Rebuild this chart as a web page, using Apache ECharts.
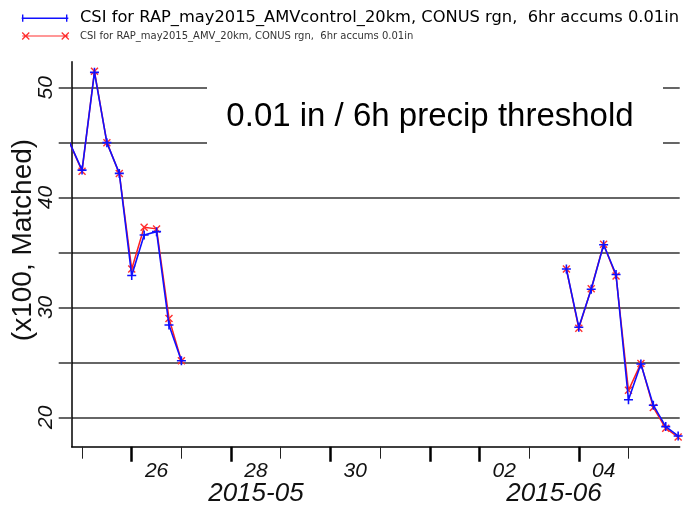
<!DOCTYPE html>
<html>
<head>
<meta charset="utf-8">
<script src="https://cdn.jsdelivr.net/npm/echarts@6/dist/echarts.min.js"></script>
<style>
html,body{margin:0;padding:0;background:#fff;}
#chart{width:683px;height:509px;}
</style>
</head>
<body>
<div id="chart"></div>
<script>
// ---- data ----
const seriesNames = [
  'CSI for RAP_may2015_AMVcontrol_20km, CONUS rgn,  6hr accums 0.01in',
  'CSI for RAP_may2015_AMV_20km, CONUS rgn,  6hr accums 0.01in'
];
const times1 = ['2015-05-24 18:00','2015-05-25 00:00','2015-05-25 06:00','2015-05-25 12:00','2015-05-25 18:00',
                '2015-05-26 00:00','2015-05-26 06:00','2015-05-26 12:00','2015-05-26 18:00','2015-05-27 00:00'];
const control1 = [45.0, 42.5, 51.4, 45.0, 42.2, 32.9, 36.6, 36.9, 28.4, 25.15];
const amv1     = [45.0, 42.4, 51.5, 45.0, 42.2, 33.5, 37.3, 37.15, 29.0, 25.15];
const times2 = ['2015-06-03 18:00','2015-06-04 00:00','2015-06-04 06:00','2015-06-04 12:00','2015-06-04 18:00',
                '2015-06-05 00:00','2015-06-05 06:00','2015-06-05 12:00','2015-06-05 18:00','2015-06-06 00:00'];
const control2 = [33.5, 28.2, 31.65, 35.7, 33.0, 21.6, 24.85, 21.1, 19.15, 18.3];
const amv2     = [33.5, 28.1, 31.7, 35.75, 32.85, 22.45, 24.9, 20.9, 19.0, 18.2];
const gapTime = '2015-05-31 00:00';

const minorTickDays = ['2015-05-25','2015-05-27','2015-05-29','2015-05-31','2015-06-03','2015-06-05'];
const majorTickDays = ['2015-05-26','2015-05-28','2015-05-30','2015-06-01','2015-06-02','2015-06-04'];
const dayLabelDays  = ['2015-05-26','2015-05-28','2015-05-30','2015-06-02','2015-06-04'];
const monthLabelAt  = ['2015-05-28 12:00','2015-06-03 12:00'];
const yTicks  = [20, 25, 30, 35, 40, 45, 50];
const yLabels = [20, 30, 40, 50];
const xRange = ['2015-05-24 19:00','2015-06-06 00:45'];
const yRange = [17.32, 52.37];
const yName = '(x100, Matched)';
const boxText = '0.01 in / 6h precip threshold';

// ---- helpers ----
function toMs(s){
  const parts = s.split(' ');
  const d = parts[0].split('-').map(Number);
  const t = (parts[1] || '00:00').split(':').map(Number);
  return Date.UTC(d[0], d[1]-1, d[2], t[0], t[1]);
}
function pad(n){ return (n<10?'0':'') + n; }
function build(times, vals){ return times.map((t,i)=>[toMs(t), vals[i]]); }
const gap = [[toMs(gapTime), null]];
const controlData = build(times1, control1).concat(gap, build(times2, control2));
const amvData = build(times1, amv1).concat(gap, build(times2, amv2));

function xShape(cx, cy, h, o){
  const p = (a)=>a.map(v=>v.toFixed(2));
  const s1 = [[cx-h+o, cy-h-o],[cx+h+o, cy+h-o],[cx+h-o, cy+h+o],[cx-h-o, cy-h+o]];
  const s2 = [[cx-h-o, cy+h-o],[cx+h-o, cy-h-o],[cx+h+o, cy-h+o],[cx-h+o, cy+h+o]];
  const f = (pts)=>'M'+pts.map(q=>p(q).join(',')).join('L')+'Z';
  return f(s1) + f(s2);
}
function rect(x0,y0,x1,y1){ return 'M'+x0+','+y0+'L'+x1+','+y0+'L'+x1+','+y1+'L'+x0+','+y1+'Z'; }

const plusSymbol = 'path://' + rect(0,3.3,8,4.7) + rect(3.3,0,4.7,8);
const crossSymbol = 'path://' + xShape(4,4,3.5,0.5);

const ICON_W = 53.3;
const blueIcon = 'path://' + rect(0,3.25,46.6,4.75) + rect(0.3,0.3,1.7,7.7) + rect(44.3,0.3,45.7,7.7) + 'M'+ICON_W+',0L'+ICON_W+',0Z';
const redIcon  = 'path://' + rect(0,3.4,46.6,4.6) + xShape(3.5,4,3.6,0.45) + xShape(43.5,4,3.6,0.45) + 'M'+ICON_W+',0L'+ICON_W+',0Z';

const chart = echarts.init(document.getElementById('chart'), null, {renderer:'canvas'});
const labelFont = 'Liberation Sans, Arial, sans-serif';

const option = {
  animation: false,
  backgroundColor: '#fff',
  grid: { left: 71.7, right: 3.3, top: 61.7, bottom: 62.3, containLabel: false },
  legend: {
    orient: 'vertical', left: 16.7, top: 5,
    itemWidth: ICON_W, itemHeight: 8, itemGap: 5,
    selectedMode: false,
    data: [
      { name: seriesNames[0], icon: blueIcon, textStyle: { fontSize: 16.3, color: '#000', fontFamily: 'DejaVu Sans' } },
      { name: seriesNames[1], icon: redIcon,  textStyle: { fontSize: 10, color: '#333', fontFamily: 'DejaVu Sans' } }
    ]
  },
  xAxis: [
    {
      type: 'value', min: toMs(xRange[0]), max: toMs(xRange[1]),
      axisLine: { show: true, lineStyle: { color: '#000', width: 1.5 } },
      axisTick: { show: true, length: 12, lineStyle: { color: '#222', width: 1 },
                  customValues: minorTickDays.map(d=>toMs(d+' 00:00')) },
      axisLabel: { show: true, margin: 14, fontSize: 21, fontStyle: 'italic', color: '#111', fontFamily: labelFont,
                   customValues: dayLabelDays.map(d=>toMs(d+' 12:00')),
                   formatter: v => pad(new Date(v).getUTCDate()) },
      splitLine: { show: false }
    },
    {
      type: 'value', position: 'bottom', min: toMs(xRange[0]), max: toMs(xRange[1]),
      axisLine: { show: false },
      axisTick: { show: true, length: 15, lineStyle: { color: '#000', width: 2.5 },
                  customValues: majorTickDays.map(d=>toMs(d+' 00:00')) },
      axisLabel: { show: true, margin: 34, fontSize: 26, fontStyle: 'italic', color: '#111', fontFamily: labelFont,
                   customValues: monthLabelAt.map(toMs),
                   formatter: v => { const d = new Date(v); return d.getUTCFullYear() + '-' + pad(d.getUTCMonth()+1); } },
      splitLine: { show: false }
    }
  ],
  yAxis: {
    type: 'value', min: yRange[0], max: yRange[1],
    axisLine: { show: true, lineStyle: { color: '#000', width: 1.5 } },
    axisTick: { show: true, length: 13, lineStyle: { color: '#333', width: 1.5 }, customValues: yTicks },
    axisLabel: { show: true, rotate: 90, margin: 15, fontSize: 21, fontStyle: 'italic', color: '#111', fontFamily: labelFont,
                 customValues: yLabels },
    splitLine: { show: true, lineStyle: { color: '#333', width: 1.6 } }
  },
  graphic: [
    { type: 'rect', z: 100, shape: { x: 207, y: 84, width: 456, height: 62 }, style: { fill: '#fff' } },
    { type: 'text', z: 101, x: 430, y: 117, style: { text: boxText, fill: '#000', font: '33px Liberation Sans, Arial, sans-serif',
      align: 'center', verticalAlign: 'middle' } },
    { type: 'text', z: 101, x: 23, y: 240, rotation: Math.PI/2,
      style: { text: yName, fill: '#111', font: '28px Liberation Sans, Arial, sans-serif', align: 'center', verticalAlign: 'middle' } }
  ],
  series: [
    {
      name: seriesNames[1], type: 'line', data: amvData, connectNulls: false,
      symbol: crossSymbol, symbolSize: 8, showAllSymbol: true,
      lineStyle: { color: '#ff2020', width: 1.5 },
      itemStyle: { color: '#ff3030' },
      emphasis: { disabled: true }, z: 2
    },
    {
      name: seriesNames[0], type: 'line', data: controlData, connectNulls: false,
      symbol: plusSymbol, symbolSize: 9, showAllSymbol: true,
      lineStyle: { color: '#1010ff', width: 1.6 },
      itemStyle: { color: '#1010ff' },
      emphasis: { disabled: true }, z: 3
    }
  ]
};
chart.setOption(option);
</script>
</body>
</html>
